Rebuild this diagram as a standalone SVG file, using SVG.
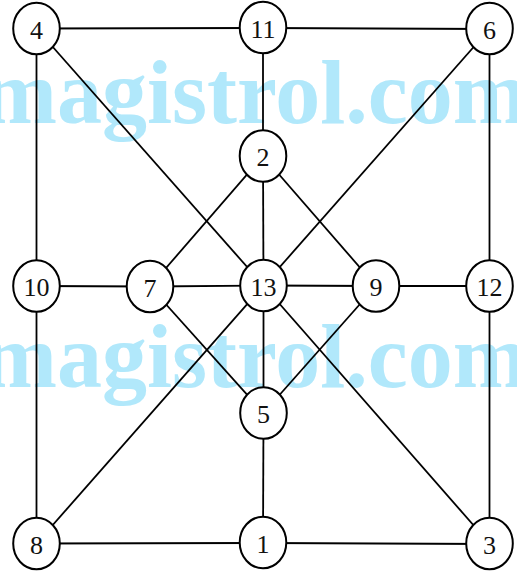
<svg xmlns="http://www.w3.org/2000/svg" width="517" height="574" viewBox="0 0 517 574">
<style>
.wm{font-family:"Liberation Serif",serif;font-weight:bold;font-size:90px;fill:#b1e8fb}
.e line{stroke:#000;stroke-width:1.8}
.n ellipse{fill:#fff;stroke:#000;stroke-width:2}
.n text{font-family:"Liberation Serif",serif;font-size:26px;fill:#111;text-anchor:middle}
</style>
<rect width="517" height="574" fill="#fff"/>
<text class="wm" x="-18" y="123">magistrol.com</text>
<text class="wm" x="-18" y="387">magistrol.com</text>
<g id="edges" class="e">
<line x1="36.5" y1="28.5" x2="263" y2="28"/>
<line x1="263" y1="28" x2="489.5" y2="29"/>
<line x1="36.5" y1="28.5" x2="36.5" y2="286"/>
<line x1="36.5" y1="28.5" x2="263.5" y2="285.5"/>
<line x1="263" y1="28" x2="263" y2="156"/>
<line x1="489.5" y1="29" x2="263.5" y2="285.5"/>
<line x1="489.5" y1="29" x2="489.5" y2="286"/>
<line x1="263" y1="156" x2="150" y2="286.5"/>
<line x1="263" y1="156" x2="263.5" y2="285.5"/>
<line x1="263" y1="156" x2="376" y2="286"/>
<line x1="36.5" y1="286" x2="150" y2="286.5"/>
<line x1="150" y1="286.5" x2="263.5" y2="285.5"/>
<line x1="263.5" y1="285.5" x2="376" y2="286"/>
<line x1="376" y1="286" x2="489.5" y2="286"/>
<line x1="36.5" y1="286" x2="36.5" y2="543.5"/>
<line x1="150" y1="286.5" x2="263.5" y2="413"/>
<line x1="263.5" y1="285.5" x2="263.5" y2="413"/>
<line x1="263.5" y1="285.5" x2="36.5" y2="543.5"/>
<line x1="263.5" y1="285.5" x2="489.5" y2="543.5"/>
<line x1="376" y1="286" x2="263.5" y2="413"/>
<line x1="489.5" y1="286" x2="489.5" y2="543.5"/>
<line x1="263.5" y1="413" x2="263" y2="542.5"/>
<line x1="36.5" y1="543.5" x2="263" y2="543"/>
<line x1="263" y1="543" x2="489.5" y2="544"/>
</g>
<g id="n4" class="n"><ellipse cx="36.5" cy="28.5" rx="23.3" ry="25.8"/><text x="36.5" y="38.5">4</text></g>
<g id="n11" class="n"><ellipse cx="263" cy="27.5" rx="23.3" ry="25.8"/><text x="263" y="37.5">11</text></g>
<g id="n6" class="n"><ellipse cx="489.5" cy="28.5" rx="23.3" ry="25.8"/><text x="489.5" y="38.5">6</text></g>
<g id="n2" class="n"><ellipse cx="263" cy="156" rx="23.3" ry="25.8"/><text x="263" y="166">2</text></g>
<g id="n10" class="n"><ellipse cx="36.5" cy="286" rx="23.3" ry="25.8"/><text x="36.5" y="296">10</text></g>
<g id="n7" class="n"><ellipse cx="150" cy="286.5" rx="23.3" ry="25.8"/><text x="150" y="296.5">7</text></g>
<g id="n13" class="n"><ellipse cx="263.5" cy="285.5" rx="23.3" ry="25.8"/><text x="263.5" y="295.5">13</text></g>
<g id="n9" class="n"><ellipse cx="376" cy="286" rx="23.3" ry="25.8"/><text x="376" y="296">9</text></g>
<g id="n12" class="n"><ellipse cx="489.5" cy="286" rx="23.3" ry="25.8"/><text x="489.5" y="296">12</text></g>
<g id="n5" class="n"><ellipse cx="263.5" cy="413" rx="23.3" ry="25.8"/><text x="263.5" y="423">5</text></g>
<g id="n8" class="n"><ellipse cx="36.5" cy="543.5" rx="23.3" ry="25.8"/><text x="36.5" y="553.5">8</text></g>
<g id="n1" class="n"><ellipse cx="263" cy="542.5" rx="23.3" ry="25.8"/><text x="263" y="552.5">1</text></g>
<g id="n3" class="n"><ellipse cx="489.5" cy="543.5" rx="23.3" ry="25.8"/><text x="489.5" y="553.5">3</text></g>
</svg>
